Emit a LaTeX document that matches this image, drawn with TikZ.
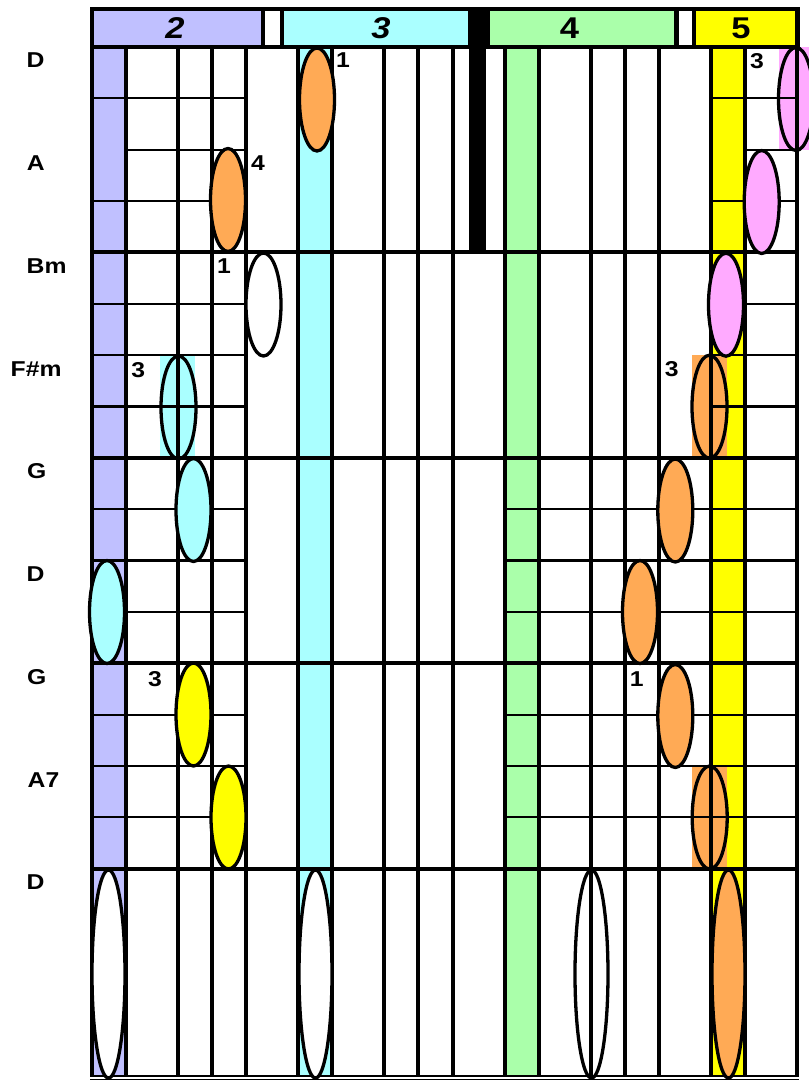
\documentclass[tikz,border=0pt]{standalone}
\usepackage{fontspec}
\setmainfont{Liberation Sans}
\newfontfamily\widefont[FakeStretch=1.15]{Liberation Sans}
\usetikzlibrary{shapes.geometric}
\definecolor{cpurple}{RGB}{192,192,255}
\definecolor{ccyan}{RGB}{170,255,255}
\definecolor{cgreen}{RGB}{170,255,170}
\definecolor{cyellow}{RGB}{255,255,0}
\definecolor{corange}{RGB}{255,170,85}
\definecolor{cpink}{RGB}{255,170,255}
\begin{document}
\begin{tikzpicture}[x=1pt,y=-1pt,
  vrule/.style={line width=3.9pt},
  hrulethin/.style={line width=2.1pt},
  hrulethick/.style={line width=3.9pt},
  note/.style={draw=black, line width=3.3pt, ellipse, inner sep=0pt, minimum width=35pt, minimum height=103pt},
  longnote/.style={note, minimum width=33pt, minimum height=208pt},
  chord/.style={font=\widefont\bfseries\fontsize{21.5}{21.5}\selectfont, inner sep=0pt, anchor=west},
  finger/.style={font=\widefont\bfseries\fontsize{21.5}{21.5}\selectfont, inner sep=0pt},
  hdrnum/.style={font=\widefont\bfseries\fontsize{30}{30}\selectfont, inner sep=0pt}
]
\useasboundingbox (0,0) rectangle (809,1080);
\clip (0,0) rectangle (809,1080);

% column fills
\fill[cpurple] (92,47) rectangle (126,1076);
\fill[ccyan] (298,47) rectangle (332,1076);
\fill[cgreen] (505,47) rectangle (539,1076);
\fill[cyellow] (711,47) rectangle (745,1076);
\fill[black] (469,47) rectangle (486,252.4);
% highlight rectangles
\fill[ccyan] (160,355.1) rectangle (195,457.8);
\fill[corange] (692,355.1) rectangle (727,457.8);
\fill[corange] (692,765.9) rectangle (727,868.6);
\fill[cpink] (779,47) rectangle (812,149.7);

% thin horizontal lines, left group
\foreach \yy in {98.35,201.05,303.75,355.1,406.45,509.15,560.5,611.85,714.55,765.9,817.25}
  \draw[hrulethin] (92,\yy) -- (246,\yy);
\draw[hrulethin] (126,149.7) -- (246,149.7);
% thin horizontal lines, right group
\foreach \yy in {98.35,201.05,303.75,355.1,406.45}
  \draw[hrulethin] (711,\yy) -- (797,\yy);
\draw[hrulethin] (745,149.7) -- (797,149.7);
\foreach \yy in {509.15,560.5,611.85,714.55,765.9,817.25}
  \draw[hrulethin] (505,\yy) -- (797,\yy);

% vertical lines
\foreach \xx in {92,126,178,212,246,298,332,384,418,453,505,539,591,625,659,711,745,797}
  \draw[vrule] (\xx,47) -- (\xx,1076);
% thick horizontal lines
\foreach \yy in {252.4,457.8,663.2,868.6}
  \draw[hrulethick] (90.1,\yy) -- (798.9,\yy);
\draw[line width=2.4pt] (90.1,1076) -- (798.9,1076);
\draw[line width=1.6pt] (90.1,1079.6) -- (798.9,1079.6);

% header
\fill[black] (90,6.7) rectangle (800,48.7);
\fill[cpurple] (94,10.7) rectangle (261,44.7);
\fill[white] (265,10.7) rectangle (279.5,44.7);
\fill[ccyan] (284,10.7) rectangle (468,44.7);
\fill[cgreen] (490,10.7) rectangle (674,44.7);
\fill[white] (678.7,10.7) rectangle (692,44.7);
\fill[cyellow] (696,10.7) rectangle (795,44.7);
\node[hdrnum] (h2) at (175,28) {\itshape 2};
\node[hdrnum] (h3) at (381,28) {\itshape 3};
\node[hdrnum] (h4) at (569.5,28) {4};
\node[hdrnum] (h5) at (741,28) {5};

% notes
\node[note, fill=corange] (n1) at (317,99.5) {};
\node[note, fill=corange] (n2) at (228,200) {};
\node[note, fill=white] (n3) at (263.5,304.5) {};
\node[note] (n4) at (178.5,407.5) {};
\node[note, fill=ccyan] (n5) at (193.5,510) {};
\node[note, fill=ccyan] (n6) at (107,612) {};
\node[note, fill=cyellow] (n7) at (193.5,714.5) {};
\node[note, fill=cyellow] (n8) at (228.5,817.5) {};
\node[longnote, fill=white] (n9) at (108.5,974) {};
\node[longnote, fill=white] (n10) at (315.5,974) {};
\node[longnote] (n11) at (591.5,974) {};
\node[longnote, fill=corange] (n12) at (728.5,974) {};
\node[note] (n13) at (796,99) {};
\node[note, fill=cpink] (n14) at (761.7,202) {};
\node[note, fill=cpink] (n15) at (726,304.7) {};
\node[note] (n16) at (709.5,406.7) {};
\node[note, fill=corange] (n17) at (675.3,510.5) {};
\node[note, fill=corange] (n18) at (640,612) {};
\node[note, fill=corange] (n19) at (675.3,716) {};
\node[note] (n20) at (709.7,817.5) {};

% fingering numbers
\node[finger] (f1) at (343,60.5) {1};
\node[finger] (f2) at (258,163) {4};
\node[finger] (f3) at (224,266.5) {1};
\node[finger] (f4) at (138.3,370) {3};
\node[finger] (f5) at (155,678.7) {3};
\node[finger] (f6) at (671.7,369) {3};
\node[finger] (f7) at (636.7,678.7) {1};
\node[finger] (f8) at (757,60.8) {3};

% chord labels
\node[chord] (c1) at (26.5,60.5) {D};
\node[chord] (c2) at (26.7,163.2) {A};
\node[chord] (c3) at (26.5,265.9) {Bm};
\node[chord] (c4) at (10.5,368.8) {F\#m};
\node[chord] (c5) at (27,471.5) {G};
\node[chord] (c6) at (26.5,574) {D};
\node[chord] (c7) at (27,676.9) {G};
\node[chord] (c8) at (27.5,779.6) {A7};
\node[chord] (c9) at (26.5,882.3) {D};
\end{tikzpicture}
\end{document}
